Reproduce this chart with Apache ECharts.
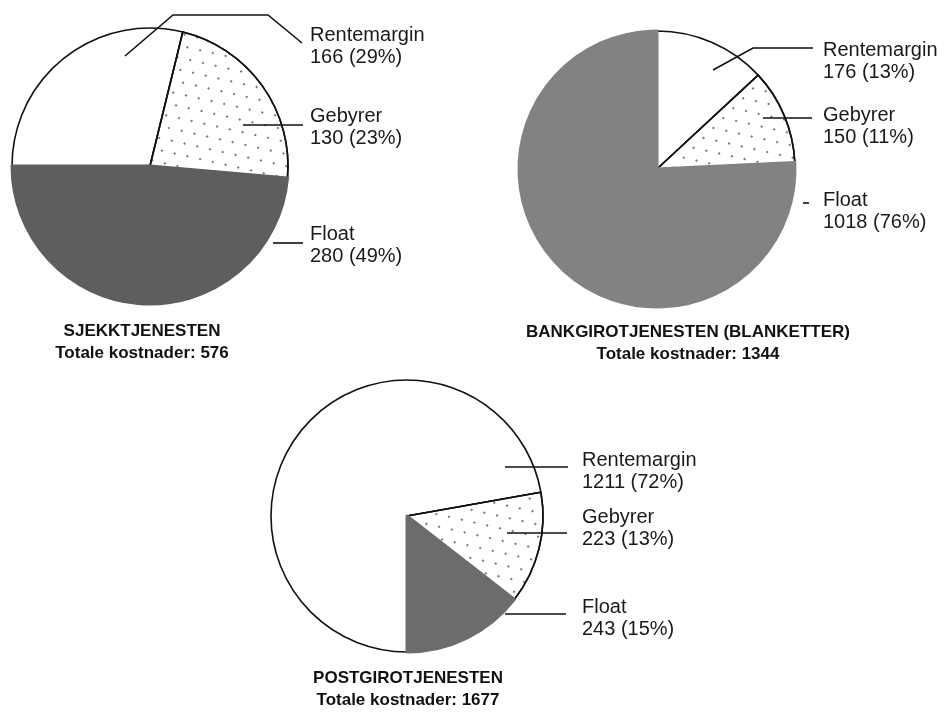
<!DOCTYPE html>
<html>
<head>
    <meta charset="utf-8">
    <script src="https://cdn.jsdelivr.net/npm/echarts@6/dist/echarts.min.js"></script>
    <style>
        html, body {
            margin: 0px;
            background: #fff;
        }
        #chart {
            width: 951px;
            height: 715px;
        }
    </style>
</head>
<body>
    <div id="chart"></div>
    <script>
        // kostnadsposter og verdier lest fra figuren
        var names = ['Rentemargin', 'Gebyrer', 'Float'];
        var titles = ['SJEKKTJENESTEN', 'BANKGIROTJENESTEN (BLANKETTER)', 'POSTGIROTJENESTEN'];
        var sjekkValues = [166, 130, 280];
        var sjekkPct = [29, 23, 49];
        var bankgiroValues = [176, 150, 1018];
        var bankgiroPct = [13, 11, 76];
        var postgiroValues = [1211, 223, 243];
        var postgiroPct = [72, 13, 15];

        var valueSets = [sjekkValues, bankgiroValues, postgiroValues];
        var pctSets = [sjekkPct, bankgiroPct, postgiroPct];

        // plassering av kakene, etiketter og pekelinjer
        var panels = [
            {
                center: [150, 166], radius: 138, startAngle: 180,
                labelX: 310, labelY: [46, 127, 245],
                lines: [
                    [[125, 56], [173, 15], [268, 15], [302, 43]],
                    [[243, 125], [303, 125]],
                    [[273, 243], [303, 243]]
                ],
                titleX: 142, titleY: 320, floatColor: '#5e5e5e'
            },
            {
                center: [657, 169], radius: 138, startAngle: 90,
                labelX: 823, labelY: [61, 126, 211],
                lines: [
                    [[713, 70], [753, 48], [813, 48]],
                    [[763, 118], [812, 118]],
                    [[803, 203], [809, 203]]
                ],
                titleX: 688, titleY: 321, floatColor: '#828282'
            },
            {
                center: [407, 516], radius: 136, startAngle: -90,
                labelX: 582, labelY: [471, 528, 618],
                lines: [
                    [[505, 467], [568, 467]],
                    [[507, 533], [567, 533]],
                    [[505, 614], [566, 614]]
                ],
                titleX: 408, titleY: 667, floatColor: '#6c6c6c'
            }
        ];

        var gebyrDecal = {
            symbol: 'rect',
            symbolSize: 0.9,
            dashArrayX: [[2, 12], [0, 7, 2, 5]],
            dashArrayY: [1.2, 9],
            rotation: -Math.PI / 4,
            color: 'rgba(40,40,40,0.7)'
        };

        var series = [];
        var graphics = [];
        panels.forEach(function (p, k) {
            var values = valueSets[k];
            var pct = pctSets[k];
            var total = values.reduce(function (a, b) { return a + b; }, 0);
            var data = names.map(function (n, i) {
                var item = { name: n, value: values[i] };
                if (i === 0) {
                    item.itemStyle = { color: '#fff', borderColor: '#111', borderWidth: 1.6 };
                } else if (i === 1) {
                    item.itemStyle = { color: '#fff', borderColor: '#111', borderWidth: 1.6, decal: gebyrDecal };
                } else {
                    // bred kant i samme farge skjuler den svarte streken mot nabofeltene
                    item.itemStyle = { color: p.floatColor, borderColor: p.floatColor, borderWidth: 3 };
                }
                return item;
            });
            // selve kaka
            series.push({
                type: 'pie',
                z: 2,
                center: p.center,
                radius: p.radius,
                startAngle: p.startAngle,
                clockwise: true,
                silent: true,
                data: data,
                label: { show: false },
                labelLine: { show: false }
            });
            // gjennomsiktig kopi som bærer etiketter og pekelinjer over kaka
            series.push({
                type: 'pie',
                z: 5,
                center: p.center,
                radius: p.radius,
                startAngle: p.startAngle,
                clockwise: true,
                avoidLabelOverlap: false,
                silent: true,
                data: names.map(function (n, i) { return { name: n, value: values[i] }; }),
                itemStyle: { color: 'rgba(0,0,0,0)', borderWidth: 0 },
                label: {
                    show: true,
                    position: 'outside',
                    fontFamily: 'Liberation Sans',
                    fontSize: 20,
                    lineHeight: 22,
                    color: '#1a1a1a',
                    formatter: function (params) {
                        return params.name + '\n' + params.value + ' (' + pct[params.dataIndex] + '%)';
                    }
                },
                labelLine: {
                    show: true,
                    lineStyle: { color: '#111', width: 1.6 }
                },
                labelLayout: function (params) {
                    var i = params.dataIndex;
                    return {
                        x: p.labelX,
                        y: p.labelY[i],
                        align: 'left',
                        verticalAlign: 'middle',
                        labelLinePoints: p.lines[i]
                    };
                }
            });
            graphics.push({
                type: 'text',
                x: p.titleX,
                y: p.titleY,
                style: {
                    text: titles[k] + '\nTotale kostnader: ' + total,
                    align: 'center',
                    textAlign: 'center',
                    verticalAlign: 'top',
                    font: 'bold 17px "Liberation Sans"',
                    lineHeight: 22,
                    fill: '#111'
                }
            });
        });

        var myChart = echarts.init(document.getElementById('chart'));
        var option = {
            backgroundColor: '#fff',
            animation: false,
            series: series,
            graphic: graphics
        };
        myChart.setOption(option);
    </script>
</body>
</html>
